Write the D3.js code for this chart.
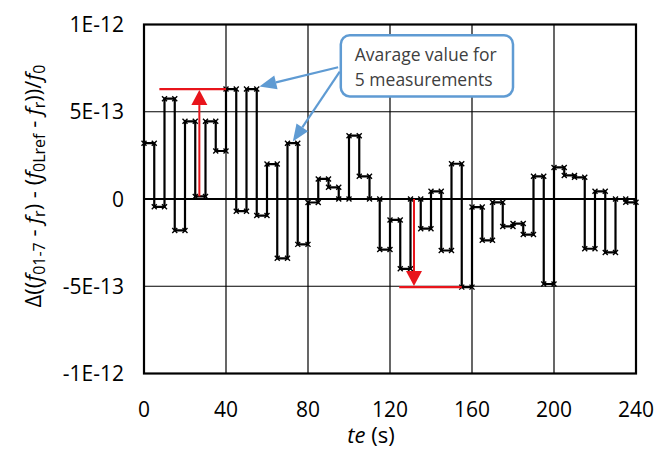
<!DOCTYPE html>
<html>
<head>
<meta charset="utf-8">
<script src="https://cdn.jsdelivr.net/npm/d3@7"></script>
<style>
  body { margin: 0; background: #fff; }
  text { font-family: "Open Sans", "DejaVu Sans", sans-serif; }
</style>
</head>
<body>
<script>
var width = 657, height = 464;
var margin = {top: 24.5, right: 21, bottom: 90.5, left: 144};

// step start times (s) and measured values (units of 1e-13)
var stepTimes = [0, 5, 10, 15, 20, 25, 30, 35, 40, 45, 50, 55,
                 60, 65, 70, 75, 80, 85, 90, 95, 100, 105, 110, 115,
                 120, 125, 130, 135, 140, 145, 150, 155, 160, 165, 170, 175,
                 180, 185, 190, 195, 200, 205, 210, 215, 220, 225, 230, 235];
var stepValues = [3.2, -0.45, 5.75, -1.8, 4.45, 0.15, 4.45, 2.75, 6.3, -0.7, 6.3, -0.95,
                  2.0, -3.4, 3.2, -2.6, -0.2, 1.15, 0.67, 0.0, 3.63, 1.3, 0.0, -2.9,
                  -1.2, -4.0, 0.0, -1.7, 0.44, -2.95, 2.02, -5.05, -0.46, -2.37, -0.19, -1.57,
                  -1.41, -2.04, 1.3, -4.87, 1.81, 1.35, 1.24, -2.85, 0.44, -3.06, 0.0, -0.19];
var endTime = 240;

var xTicks = [0, 40, 80, 120, 160, 200, 240];
var yTicks = [-1e-12, -5e-13, 0, 5e-13, 1e-12];
var yTickLabels = ["-1E-12", "-5E-13", "0", "5E-13", "1E-12"];

var svg = d3.select("body").append("svg")
    .attr("width", width)
    .attr("height", height);

var x = d3.scaleLinear().domain([0, 240]).range([margin.left, width - margin.right]);
var y = d3.scaleLinear().domain([-1e-12, 1e-12]).range([height - margin.bottom, margin.top]);

var points = stepTimes.map((t, i) => ({t: t, v: stepValues[i] * 1e-13}));
var linePoints = points.concat([{t: endTime, v: points[points.length - 1].v}]);

// grid
svg.selectAll("line.vgrid")
    .data(xTicks.slice(1, -1))
    .enter().append("line")
    .attr("x1", d => x(d)).attr("x2", d => x(d))
    .attr("y1", y(1e-12)).attr("y2", y(-1e-12))
    .attr("stroke", "#000").attr("stroke-width", 1.2);

svg.selectAll("line.hgrid")
    .data(yTicks.slice(1, -1))
    .enter().append("line")
    .attr("x1", x(0)).attr("x2", x(240))
    .attr("y1", d => y(d)).attr("y2", d => y(d))
    .attr("stroke", "#000")
    .attr("stroke-width", d => d === 0 ? 2.2 : 1.2);

// frame
svg.append("rect")
    .attr("x", x(0)).attr("y", y(1e-12))
    .attr("width", x(240) - x(0))
    .attr("height", y(-1e-12) - y(1e-12))
    .attr("fill", "none")
    .attr("stroke", "#000")
    .attr("stroke-width", 2.2);

// tick labels
svg.selectAll("text.xt")
    .data(xTicks)
    .enter().append("text")
    .attr("x", d => x(d))
    .attr("y", 416.5)
    .attr("text-anchor", "middle")
    .attr("font-size", 21)
    .attr("fill", "#000")
    .text(d => d);

svg.selectAll("text.yt")
    .data(yTicks)
    .enter().append("text")
    .attr("x", 124)
    .attr("y", d => y(d) + 7.5)
    .attr("text-anchor", "end")
    .attr("font-size", 21)
    .attr("fill", "#000")
    .text((d, i) => yTickLabels[i]);

// x title
var xt = svg.append("text")
    .attr("x", 371).attr("y", 443)
    .attr("text-anchor", "middle")
    .attr("font-size", 22);
xt.append("tspan").attr("font-style", "italic").text("te");
xt.append("tspan").text(" (s)");

// y title
var yt = svg.append("text")
    .attr("transform", "translate(41," + 186 + ") rotate(-90)")
    .attr("text-anchor", "middle")
    .attr("font-size", 22);
var parts = [
    ["Δ((", "n"], ["f", "i"], ["01-7", "s"], [" - ", "n"], ["f", "i"], ["r", "s"],
    [") - (", "n"], ["f", "i"], ["0Lref", "s"], [" - ", "n"], ["f", "i"], ["r", "s"],
    ["))/", "n"], ["f", "i"], ["0", "s"]
];
var shifted = false;
parts.forEach(p => {
    var ts = yt.append("tspan").text(p[0]);
    if (p[1] === "i") ts.attr("font-style", "italic");
    if (p[1] === "s") {
        ts.attr("font-size", 16).attr("dy", 4);
        shifted = true;
    } else if (shifted) {
        ts.attr("dy", -4);
        shifted = false;
    }
});

// step line
var line = d3.line()
    .x(d => x(d.t))
    .y(d => y(d.v))
    .curve(d3.curveStepAfter);

svg.append("path")
    .datum(linePoints)
    .attr("d", line)
    .attr("fill", "none")
    .attr("stroke", "#000")
    .attr("stroke-width", 2.2);

// small markers at the ends of each level
var marks = [];
points.forEach((p, i) => {
    var tEnd = i < points.length - 1 ? points[i + 1].t : endTime;
    marks.push({t: p.t, v: p.v});
    marks.push({t: tEnd, v: p.v});
});
svg.selectAll("path.mk")
    .data(marks)
    .enter().append("path")
    .attr("d", d => {
        var cx = x(d.t), cy = y(d.v), s = 2.5;
        return "M" + (cx - s) + "," + (cy - s) + "L" + (cx + s) + "," + (cy + s) +
               "M" + (cx - s) + "," + (cy + s) + "L" + (cx + s) + "," + (cy - s);
    })
    .attr("stroke", "#000")
    .attr("stroke-width", 1.4);

// red annotations
var red = "#e8141b";
var redLines = [
    {t1: 7.5, t2: 40, v: stepValues[8] * 1e-13},
    {t1: 124.5, t2: 155, v: stepValues[31] * 1e-13}
];
var redArrows = [
    {t: 27, v1: stepValues[5] * 1e-13, v2: stepValues[8] * 1e-13},
    {t: 131.7, v1: stepValues[26] * 1e-13, v2: stepValues[31] * 1e-13}
];
svg.selectAll("line.red")
    .data(redLines)
    .enter().append("line")
    .attr("x1", d => x(d.t1)).attr("x2", d => x(d.t2))
    .attr("y1", d => y(d.v)).attr("y2", d => y(d.v))
    .attr("stroke", red).attr("stroke-width", 2.2);

redArrows.forEach(a => {
    var ax = x(a.t), y1 = y(a.v1), y2 = y(a.v2);
    var dir = y2 < y1 ? 1 : -1;
    var headLen = 16, headW = 8;
    svg.append("line")
        .attr("x1", ax).attr("x2", ax)
        .attr("y1", y1).attr("y2", y2 + dir * headLen)
        .attr("stroke", red).attr("stroke-width", 2);
    svg.append("path")
        .attr("d", "M" + ax + "," + (y2 + dir * 1) +
                   "L" + (ax - headW) + "," + (y2 + dir * headLen) +
                   "L" + (ax + headW) + "," + (y2 + dir * headLen) + "Z")
        .attr("fill", red);
});

// callout
var blue = "#5f9bd3";
var callout = {t1: 96, t2: 180, v1: 9.38e-13, v2: 5.88e-13};
var blueArrows = [
    {t1: 94.7, v1: 7.55e-13, t2: 56.3, v2: 6.45e-13},
    {t1: 95.5, v1: 7.3e-13, t2: 72.6, v2: 3.3e-13}
];
blueArrows.forEach(a => {
    var x1 = x(a.t1), y1 = y(a.v1), x2 = x(a.t2), y2 = y(a.v2);
    var ang = Math.atan2(y2 - y1, x2 - x1);
    var headLen = 17, headW = 7;
    var bx = x2 - headLen * Math.cos(ang), by = y2 - headLen * Math.sin(ang);
    svg.append("line")
        .attr("x1", x1).attr("y1", y1)
        .attr("x2", bx).attr("y2", by)
        .attr("stroke", blue).attr("stroke-width", 2.2);
    svg.append("path")
        .attr("d", "M" + x2 + "," + y2 +
                   "L" + (bx - headW * Math.sin(ang)) + "," + (by + headW * Math.cos(ang)) +
                   "L" + (bx + headW * Math.sin(ang)) + "," + (by - headW * Math.cos(ang)) + "Z")
        .attr("fill", blue);
});

svg.append("rect")
    .attr("x", x(callout.t1)).attr("y", y(callout.v1))
    .attr("width", x(callout.t2) - x(callout.t1))
    .attr("height", y(callout.v2) - y(callout.v1))
    .attr("rx", 9)
    .attr("fill", "#fff")
    .attr("stroke", blue)
    .attr("stroke-width", 2.5);

svg.selectAll("text.callout")
    .data(["Avarage value for", "5 measurements"])
    .enter().append("text")
    .attr("x", x(callout.t1) + 14)
    .attr("y", (d, i) => 60.5 + i * 25)
    .attr("font-size", 17.5)
    .attr("fill", "#404040")
    .text(d => d);
</script>
</body>
</html>
